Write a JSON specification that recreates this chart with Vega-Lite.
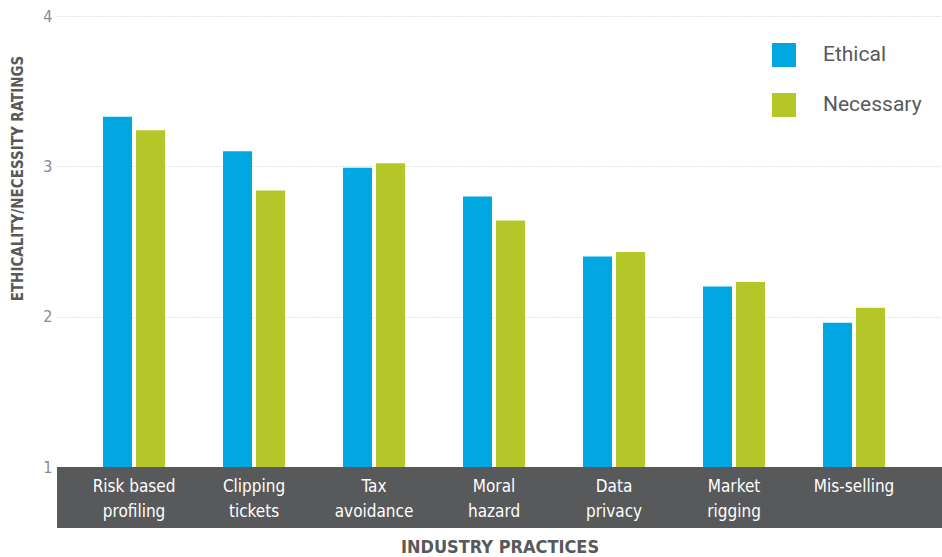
{
  "$schema": "https://vega.github.io/schema/vega-lite/v6.json",
  "width": 885,
  "height": 451,
  "autosize": "none",
  "padding": {"left": 57, "top": 16, "right": 0, "bottom": 90},
  "background": "white",
  "layer": [
    {
      "data": {"values": [{"top": 1, "bottom": 0.595}]},
      "mark": {"type": "rect", "color": "#58595b", "clip": false},
      "encoding": {
        "y": {"field": "top", "type": "quantitative"},
        "y2": {"field": "bottom"}
      }
    },
    {
      "data": {
        "values": [
          {"practice": "Risk based profiling", "series": "Ethical", "value": 3.33},
          {"practice": "Risk based profiling", "series": "Necessary", "value": 3.24},
          {"practice": "Clipping tickets", "series": "Ethical", "value": 3.10},
          {"practice": "Clipping tickets", "series": "Necessary", "value": 2.84},
          {"practice": "Tax avoidance", "series": "Ethical", "value": 2.99},
          {"practice": "Tax avoidance", "series": "Necessary", "value": 3.02},
          {"practice": "Moral hazard", "series": "Ethical", "value": 2.80},
          {"practice": "Moral hazard", "series": "Necessary", "value": 2.64},
          {"practice": "Data privacy", "series": "Ethical", "value": 2.40},
          {"practice": "Data privacy", "series": "Necessary", "value": 2.43},
          {"practice": "Market rigging", "series": "Ethical", "value": 2.20},
          {"practice": "Market rigging", "series": "Necessary", "value": 2.23},
          {"practice": "Mis-selling", "series": "Ethical", "value": 1.96},
          {"practice": "Mis-selling", "series": "Necessary", "value": 2.06}
        ]
      },
      "mark": {"type": "bar"},
      "encoding": {
        "x": {
          "field": "practice",
          "type": "nominal",
          "sort": null,
          "scale": {"paddingInner": 0.483, "paddingOuter": 0.429, "align": 0.447},
          "axis": {
            "title": "INDUSTRY PRACTICES",
            "orient": "bottom",
            "zindex": 2,
            "domain": false,
            "ticks": false,
            "tickSize": 0,
            "labelAngle": 0,
            "labelColor": "#ffffff",
            "labelFont": "DejaVu Sans Condensed, Roboto, sans-serif",
            "labelFontSize": 17,
            "labelLineHeight": 25,
            "labelPadding": 11,
            "labelExpr": "lastindexof(datum.value, ' ') > 0 ? [substring(datum.value, 0, lastindexof(datum.value, ' ')), substring(datum.value, lastindexof(datum.value, ' ') + 1)] : datum.value",
            "titleFont": "DejaVu Sans Condensed, Roboto, sans-serif",
            "titleFontWeight": "bold",
            "titleFontSize": 18,
            "titleColor": "#58595b",
            "titlePadding": 19,
            "grid": false
          }
        },
        "xOffset": {
          "field": "series",
          "type": "nominal",
          "sort": ["Ethical", "Necessary"],
          "scale": {"paddingInner": 0.12, "paddingOuter": 0}
        },
        "y": {
          "field": "value",
          "type": "quantitative",
          "scale": {"domain": [1, 4], "zero": false, "nice": false},
          "axis": {
            "title": "ETHICALITY/NECESSITY RATINGS",
            "values": [1, 2, 3, 4],
            "format": "d",
            "domain": false,
            "ticks": false,
            "tickSize": 0,
            "labelPadding": 5,
            "labelFont": "DejaVu Sans Condensed, Roboto, sans-serif",
            "labelFontSize": 16,
            "labelColor": "#8a8a8a",
            "grid": true,
            "gridColor": "#c8c8c8",
            "gridDash": [1, 2],
            "gridWidth": 1,
            "titleFont": "DejaVu Sans Condensed, Roboto, sans-serif",
            "titleFontWeight": "bold",
            "titleFontSize": 15,
            "titleColor": "#58595b",
            "titleX": -40,
            "titleY": 162,
            "titleAlign": "center",
            "titleBaseline": "middle",
            "titleAngle": 270
          }
        },
        "y2": {"datum": 1},
        "color": {
          "field": "series",
          "type": "nominal",
          "sort": ["Ethical", "Necessary"],
          "scale": {"domain": ["Ethical", "Necessary"], "range": ["#00a7e1", "#b5c628"]},
          "legend": {
            "title": null,
            "orient": "none",
            "legendX": 715,
            "legendY": 27,
            "padding": 0,
            "symbolType": "square",
            "symbolSize": 576,
            "symbolStrokeWidth": 0,
            "symbolOpacity": 1,
            "labelFont": "Roboto",
            "labelFontSize": 21,
            "labelColor": "#58595b",
            "labelOffset": 27,
            "rowPadding": 26
          }
        }
      }
    }
  ],
  "config": {
    "view": {"stroke": null}
  }
}
